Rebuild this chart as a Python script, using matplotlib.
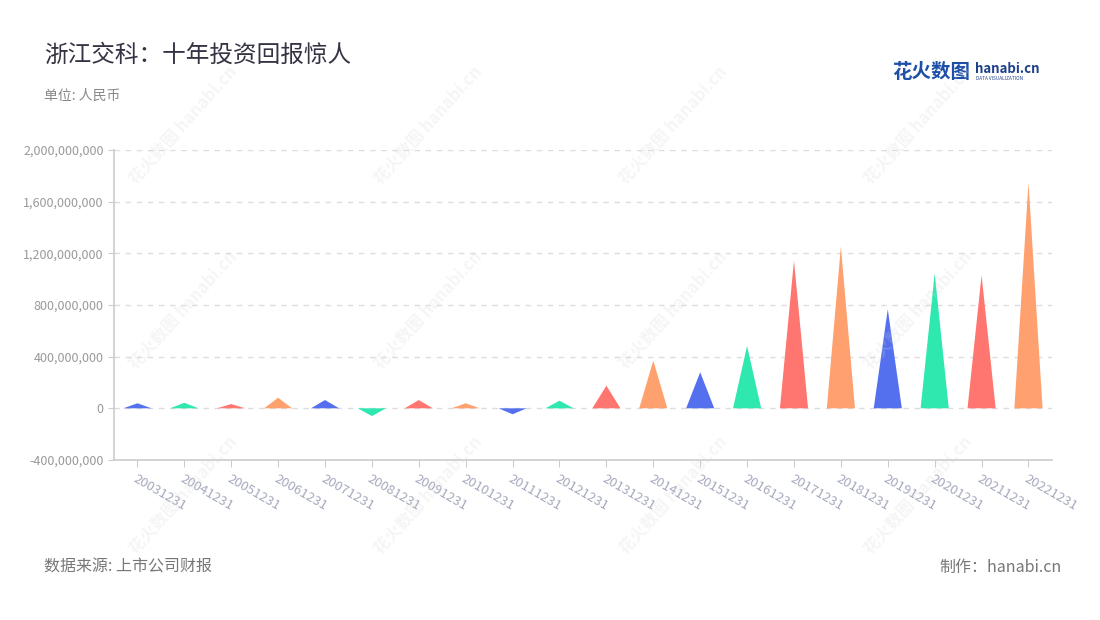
import matplotlib
matplotlib.use("Agg")
import matplotlib.pyplot as plt
from matplotlib.ticker import FuncFormatter

plt.rcParams['font.family'] = ['Noto Sans CJK SC', 'DejaVu Sans']

# data
dates = ["20031231", "20041231", "20051231", "20061231", "20071231", "20081231",
         "20091231", "20101231", "20111231", "20121231", "20131231", "20141231",
         "20151231", "20161231", "20171231", "20181231", "20191231", "20201231",
         "20211231", "20221231"]
values = [39e6, 43e6, 33e6, 82e6, 64e6, -60e6, 64e6, 39e6, -46e6, 59e6,
          175e6, 369e6, 279e6, 483e6, 1144e6, 1253e6, 767e6, 1046e6, 1031e6, 1749e6]
palette = ["#5470ee", "#2ee8b0", "#ff7670", "#ffa06f"]
yticks = [-400e6, 0, 400e6, 800e6, 1200e6, 1600e6, 2000e6]

fig = plt.figure(figsize=(11, 6.2), dpi=100)
ax = fig.add_axes([0.1036, 0.2581, 0.8527, 0.5])

w = 0.6
for i, v in enumerate(values):
    ax.fill([i - w / 2, i, i + w / 2], [0, v, 0], color=palette[i % 4], lw=0, zorder=3)

ax.set_xlim(-0.5, len(dates) - 0.5)
ax.set_ylim(-400e6, 2000e6)
ax.set_yticks(yticks)
ax.yaxis.set_major_formatter(FuncFormatter(lambda v, p: f"{int(v):,}"))
ax.set_xticks(range(len(dates)))
ax.set_xticklabels(dates, rotation=-30, ha='left', rotation_mode='anchor')

for y in yticks[1:]:
    ax.axhline(y, color='#dddddd', lw=1, ls=(0, (4, 4)), zorder=1)

for s in ['top', 'right']:
    ax.spines[s].set_visible(False)
for s in ['left', 'bottom']:
    ax.spines[s].set_color('#cccccc')
    ax.spines[s].set_linewidth(1.2)
ax.tick_params(axis='y', length=4, color='#cccccc', labelcolor='#999999', labelsize=9)
ax.tick_params(axis='x', length=5, color='#cccccc', labelcolor='#a5a9bd', labelsize=9.5, pad=4)

# faint watermarks
for cx in [183, 428, 673, 918]:
    for cy in [125, 310, 495]:
        fig.text(cx / 1100, 1 - cy / 620, "花火数图 hanabi.cn", rotation=48,
                 ha='center', va='center', fontsize=12, fontweight='bold',
                 color='#d5d5d5', alpha=0.22, zorder=10)

fig.text(44 / 1100, 1 - 55 / 620, "浙江交科：十年投资回报惊人", fontsize=17,
         color='#333344', va='center')
fig.text(44 / 1100, 1 - 96 / 620, "单位: 人民币", fontsize=10, color='#888888', va='center')
fig.text(44 / 1100, 1 - 567 / 620, "数据来源: 上市公司财报", fontsize=11.5, color='#777777', va='center')
fig.text(1062 / 1100, 1 - 567 / 620, "制作：hanabi.cn", fontsize=11.5, color='#777777',
         va='center', ha='right')

# logo
fig.text(892 / 1100, 1 - 72 / 620, "花火数图", fontsize=14, fontweight='bold',
         color='#1e50a8', va='center')
fig.text(975 / 1100, 1 - 69 / 620, "hanabi.cn", fontsize=9.5, fontweight='bold',
         color='#1e3f8a', va='center')
fig.text(976 / 1100, 1 - 79 / 620, "DATA VISUALIZATION", fontsize=3.4,
         color='#1e3f8a', va='center')

fig.savefig("out.png", dpi=100, facecolor='white')
